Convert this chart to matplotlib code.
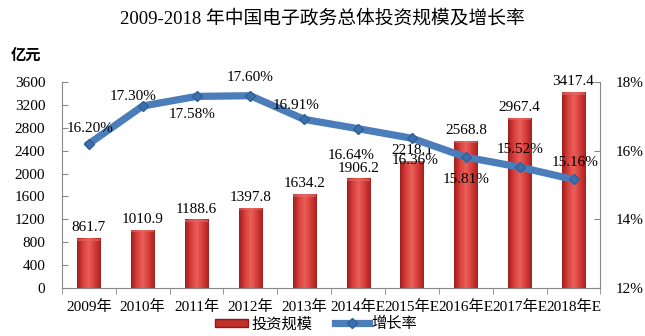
import matplotlib
matplotlib.use("Agg")
import matplotlib.pyplot as plt
import numpy as np
from matplotlib.colors import LinearSegmentedColormap
from matplotlib.lines import Line2D
from matplotlib.patches import Patch

plt.rcParams['font.family'] = ['Liberation Serif', 'Noto Sans CJK SC']

categories = ["2009年", "2010年", "2011年", "2012年", "2013年", "2014年E",
              "2015年E", "2016年E", "2017年E", "2018年E"]
invest = [861.7, 1010.9, 1188.6, 1397.8, 1634.2, 1906.2, 2218.1, 2568.8, 2967.4, 3417.4]
growth = [16.20, 17.30, 17.58, 17.60, 16.91, 16.64, 16.36, 15.81, 15.52, 15.16]
left_ticks = list(range(0, 3601, 400))
right_ticks = [12, 14, 16, 18]
# label offsets in points (dx, dy) for growth labels
growth_offsets = [(1, 11), (-7, 7), (-3, -13), (0, 13), (-6, 10),
                  (-5, -19), (2, -16), (0, -16), (0, 13), (1, 12)]

fig = plt.figure(figsize=(6.45, 3.36), dpi=100)
ax = fig.add_axes([0.096, 0.143, 0.835, 0.613])
x = np.arange(len(categories))
bw = 0.43
bars = ax.bar(x, invest, width=bw, color='none', edgecolor='none', zorder=2)

cmap = LinearSegmentedColormap.from_list('r', ['#9e1e1c', '#d9403c', '#e8605a', '#d63b37', '#a42220'])
grad = np.linspace(0, 1, 64).reshape(1, -1)
for b in bars:
    x0, y0 = b.get_x(), b.get_y()
    w, h = b.get_width(), b.get_height()
    ax.imshow(grad, cmap=cmap, extent=(x0, x0 + w, y0, y0 + h), aspect='auto', zorder=2)
    ax.add_patch(plt.Rectangle((x0, y0 + h - 40), w, 40, color='#e46a66', alpha=0.6, zorder=2.1, lw=0))

for xi, v in zip(x, invest):
    ax.annotate(f"{v:.1f}", (xi, v), xytext=(0, 3), textcoords='offset points',
                ha='center', va='bottom', fontsize=11, color='black', zorder=5)

ax.set_xlim(-0.5, len(categories) - 0.5)
ax.set_ylim(0, 3600)
ax.set_yticks(left_ticks)
ax.set_yticklabels([str(t) for t in left_ticks], fontsize=11)
ax.set_xticks(x)
ax.set_xticklabels(categories, fontsize=11)
ax.set_xticks(np.arange(-0.5, len(categories), 1), minor=True)
ax.tick_params(axis='x', which='major', length=0, pad=9)
ax.tick_params(axis='x', which='minor', length=4, direction='out', color='#888888')
ax.tick_params(axis='y', direction='in', length=4, color='#888888', pad=12)
for s in ['top', 'right']:
    ax.spines[s].set_visible(False)
for s in ['left', 'bottom']:
    ax.spines[s].set_color('#888888')

ax2 = ax.twinx()
ax2.set_ylim(12, 18)
ax2.set_yticks(right_ticks)
ax2.set_yticklabels([f"{t}%" for t in right_ticks], fontsize=11)
ax2.tick_params(axis='y', direction='in', length=4, color='#888888', pad=11)
for s in ['top', 'left', 'bottom']:
    ax2.spines[s].set_visible(False)
ax2.spines['right'].set_color('#888888')
ax2.plot(x, growth, color='#4a7dba', lw=5.2, marker='D', markersize=5.5,
         markerfacecolor='#3d6faa', markeredgecolor='#2f5f99', zorder=4, solid_joinstyle='round')
for xi, g, (dx, dy) in zip(x, growth, growth_offsets):
    ax2.annotate(f"{g:.2f}%", (xi, g), xytext=(dx, dy), textcoords='offset points',
                 ha='center', va='center', fontsize=11, color='black', zorder=6)

fig.text(0.5, 0.945, "2009-2018 年中国电子政务总体投资规模及增长率", ha='center', va='center', fontsize=13.5)
fig.text(0.016, 0.835, "亿元", ha='left', va='center', fontsize=11, fontweight='bold')

handles = [Patch(facecolor='#c0302c', edgecolor='#8e1a18'),
           Line2D([0], [0], color='#4a7dba', lw=5.2, marker='D', markersize=5.5,
                  markerfacecolor='#3d6faa', markeredgecolor='#2f5f99')]
fig.legend(handles, ['投资规模', '增长率'], loc='center', bbox_to_anchor=(0.49, 0.035),
           ncol=2, frameon=False, fontsize=11, handlelength=2.2, handleheight=0.5,
           columnspacing=1.5, handletextpad=0.2, borderpad=0)

fig.savefig('out.png', dpi=100)
